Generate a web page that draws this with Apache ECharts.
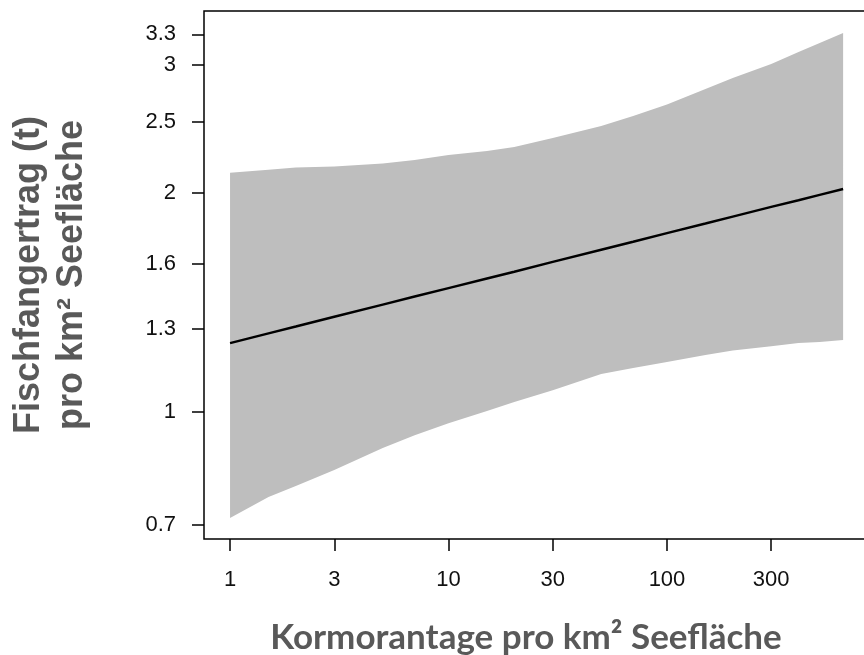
<!DOCTYPE html>
<html><head><meta charset="utf-8">
<script src="https://cdn.jsdelivr.net/npm/echarts@6/dist/echarts.min.js"></script>
<style>html,body{margin:0;padding:0;background:#fff}#c{width:864px;height:655px}</style>
</head><body><div id="c"></div>
<script>
// x: Kormorantage pro km² Seefläche (log scale)
const xVals = [1, 1.5, 2, 3, 5, 7, 10, 15, 20, 30, 50, 70, 100, 150, 200, 300, 400, 500, 640];
// fitted line
const fitVals = [1.244, 1.283, 1.311, 1.352, 1.405, 1.441, 1.480, 1.526, 1.559, 1.608, 1.671, 1.714, 1.761, 1.815, 1.855, 1.913, 1.954, 1.987, 2.024];
// confidence band upper / lower
const upperVals = [2.131, 2.152, 2.166, 2.173, 2.194, 2.218, 2.253, 2.282, 2.311, 2.378, 2.470, 2.549, 2.643, 2.776, 2.874, 3.004, 3.120, 3.210, 3.313];
const lowerVals = [0.716, 0.765, 0.792, 0.833, 0.893, 0.930, 0.966, 1.004, 1.033, 1.072, 1.128, 1.150, 1.172, 1.198, 1.215, 1.232, 1.244, 1.248, 1.256];
// tick labels
const xTicks = [1, 3, 10, 30, 100, 300];
const yTicks = [0.7, 1, 1.3, 1.6, 2, 2.5, 3, 3.3];

function nearest(list, v) {
  return list.reduce((a, b) => Math.abs(Math.log(b / v)) < Math.abs(Math.log(a / v)) ? b : a);
}

const chart = echarts.init(document.getElementById('c'), null, { renderer: 'canvas' });
chart.setOption({
  animation: false,
  grid: { left: 204, top: 11, right: -4, bottom: 116, show: true, borderColor: '#000', borderWidth: 1.5,
    containLabel: false, outerBoundsMode: 'none' },
  xAxis: {
    type: 'log', logBase: 10, min: 0.760, max: 832,
    axisLine: { show: false }, splitLine: { show: false },
    axisTick: { show: true, length: 12, lineStyle: { color: '#000', width: 1.5 }, customValues: xTicks },
    axisLabel: { customValues: xTicks, margin: 30, fontFamily: 'Liberation Sans', fontSize: 22, color: '#111',
      formatter: v => String(nearest(xTicks, v)) },
    name: 'Kormorantage pro km² Seefläche', nameLocation: 'middle', nameGap: 81,
    nameTextStyle: { fontFamily: 'Lato', fontWeight: 'bold', fontSize: 35, color: '#595959', padding: [0, 20, 0, 0] }
  },
  yAxis: {
    type: 'log', logBase: 10, min: 0.670, max: 3.552,
    axisLine: { show: false }, splitLine: { show: false },
    axisTick: { show: true, length: 12, lineStyle: { color: '#000', width: 1.5 }, customValues: yTicks },
    axisLabel: { customValues: yTicks, margin: 28, fontFamily: 'Liberation Sans', fontSize: 22, color: '#111',
      formatter: v => String(nearest(yTicks, v)) },
    name: 'Fischfangertrag (t)\npro km² Seefläche', nameLocation: 'middle', nameGap: 110, nameRotate: 90,
    nameTextStyle: { fontFamily: 'Liberation Sans', fontWeight: 'bold', fontSize: 36, lineHeight: 43, color: '#595959', align: 'center' }
  },
  series: [
    {
      type: 'custom',
      coordinateSystem: 'cartesian2d',
      data: xVals.map((x, i) => [x, upperVals[i], lowerVals[i]]),
      renderItem: function (params, api) {
        if (params.dataIndex !== 0) return null;
        const top = xVals.map((x, i) => api.coord([x, upperVals[i]]));
        const bot = xVals.map((x, i) => api.coord([x, lowerVals[i]])).reverse();
        return { type: 'polygon', shape: { points: top.concat(bot) }, style: { fill: '#bebebe', stroke: null } };
      },
      silent: true, z: 1
    },
    {
      type: 'line',
      data: xVals.map((x, i) => [x, fitVals[i]]),
      showSymbol: false, symbol: 'none',
      lineStyle: { color: '#000', width: 2.5 },
      z: 3, silent: true
    }
  ]
});
</script>
</body></html>
